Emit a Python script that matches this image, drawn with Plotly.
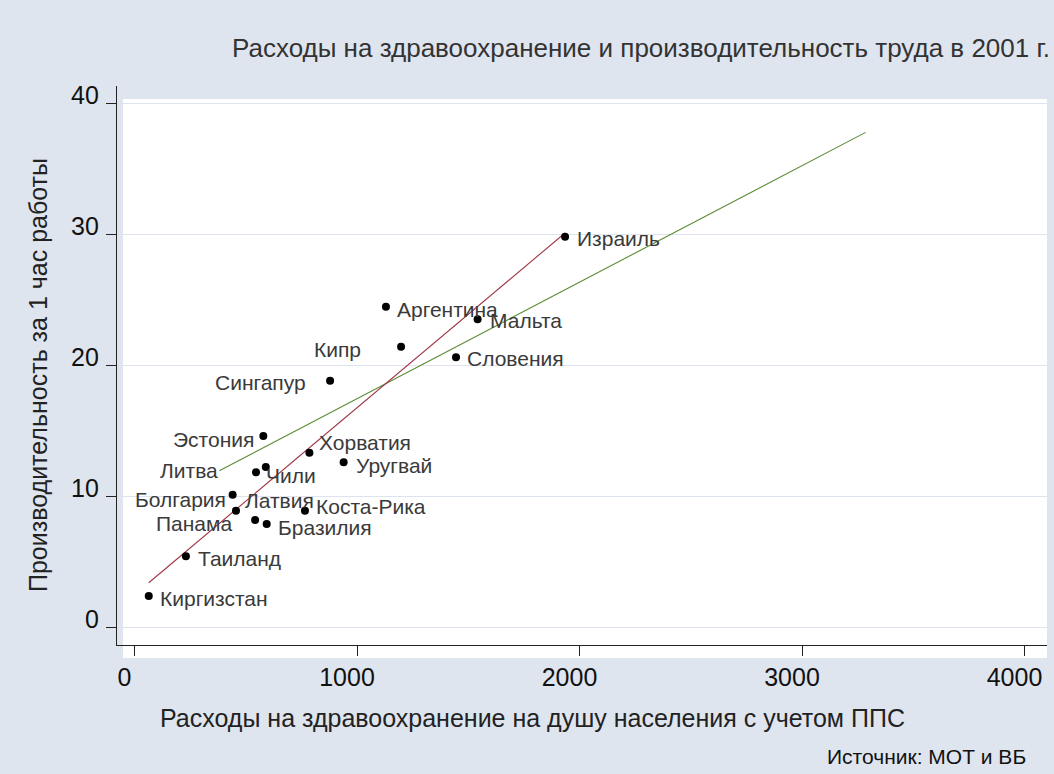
import plotly.graph_objects as go

# ---- data ----
countries = ["Израиль", "Аргентина", "Мальта", "Кипр", "Словения", "Сингапур",
             "Эстония", "Хорватия", "Уругвай", "Литва", "Чили", "Болгария",
             "Латвия", "Панама", "Коста-Рика", "Бразилия", "Таиланд", "Киргизстан"]
health_exp = [1935, 1130, 1542, 1198, 1445, 879,
              579, 786, 940, 590, 546, 441,
              456, 542, 766, 594, 231, 64]
productivity = [29.8, 24.45, 23.5, 21.4, 20.6, 18.8,
                14.58, 13.3, 12.57, 12.21, 11.81, 10.1,
                8.88, 8.17, 8.88, 7.86, 5.40, 2.37]

fit_sample_x = [64, 1935]          # fitted line over the sample shown
fit_sample_y = [3.38, 30.08]
fit_wide_x = [381, 3286]           # fitted line over the wider set
fit_wide_y = [11.93, 37.76]

x_ticks = [0, 1000, 2000, 3000, 4000]
y_ticks = [0, 10, 20, 30, 40]

title_text = "Расходы на здравоохранение и производительность труда в 2001 г."
x_title = "Расходы на здравоохранение на душу населения с учетом ППС"
y_title = "Производительность за 1 час работы"
source_text = "Источник: МОТ и ВБ"

# label placement (pixel offsets from the point; styling only)
label_style = {
    "Израиль": ("left", 10, -2), "Аргентина": ("left", 9, -2.5),
    "Мальта": ("left", 10, -1.7), "Кипр": ("right", -38, -3),
    "Словения": ("left", 9, -1.6), "Сингапур": ("right", -22, -1.6),
    "Эстония": ("right", -7, -3.5), "Хорватия": ("left", 8, 10),
    "Уругвай": ("left", 10, -2.7), "Литва": ("right", -46, -3),
    "Чили": ("left", 8, -2.7), "Болгария": ("right", -5, -4.3),
    "Латвия": ("left", 7, 9.7), "Панама": ("right", -21, -4),
    "Коста-Рика": ("left", 9, 3.7), "Бразилия": ("left", 9, -3),
    "Таиланд": ("left", 9.7, -2.7), "Киргизстан": ("left", 9.6, -2.3),
}

BG = "#dfe5ef"
FONT = "Liberation Sans, Arial, sans-serif"
W, H = 1054, 774
L, R, T, B = 117, 7, 86, 129
pw, ph = W - L - R, H - T - B

fig = go.Figure()
fig.add_trace(go.Scatter(x=fit_wide_x, y=fit_wide_y, mode="lines",
                         line=dict(color="#5c8a34", width=1.1), hoverinfo="skip"))
fig.add_trace(go.Scatter(x=fit_sample_x, y=fit_sample_y, mode="lines",
                         line=dict(color="#9e3444", width=1.1), hoverinfo="skip"))
fig.add_trace(go.Scatter(x=health_exp, y=productivity, mode="markers",
                         marker=dict(color="black", size=8),
                         text=countries, hoverinfo="text"))

for name, xv, yv in zip(countries, health_exp, productivity):
    anchor, dx, dy = label_style[name]
    fig.add_annotation(x=xv, y=yv, xref="x", yref="y", text=name, showarrow=False,
                       xanchor=anchor, yanchor="middle", xshift=dx, yshift=dy,
                       font=dict(family=FONT, size=21, color="#3a3a3a"))

# white plot region (slightly offset from axes, as in the original)
fig.add_shape(type="rect", xref="paper", yref="paper",
              x0=(123 - L) / pw, x1=1.0, y0=-(658 - (H - B)) / ph, y1=(H - B - 99) / ph,
              fillcolor="white", line=dict(width=0), layer="below")

fig.add_annotation(xref="paper", yref="paper", x=(532 - L) / pw, y=-(718 - (H - B)) / ph,
                   text=x_title, showarrow=False, xanchor="center", yanchor="middle",
                   font=dict(family=FONT, size=25, color="#222"))
fig.add_annotation(xref="paper", yref="paper", x=-(L - 38) / pw, y=(H - B - 375) / ph,
                   text=y_title, showarrow=False, xanchor="center", yanchor="middle",
                   textangle=-90, font=dict(family=FONT, size=25, color="#222"))
fig.add_annotation(xref="paper", yref="paper", x=(1028 - L) / pw, y=-(756 - (H - B)) / ph,
                   text=source_text, showarrow=False, xanchor="right", yanchor="middle",
                   font=dict(family=FONT, size=21, color="#111"))

fig.update_layout(
    width=W, height=H,
    margin=dict(l=L, r=R, t=T, b=B),
    paper_bgcolor=BG, plot_bgcolor="rgba(0,0,0,0)",
    showlegend=False,
    title=dict(text=title_text, xref="container", yref="container",
               x=232 / W, xanchor="left", y=1 - 48 / H, yanchor="middle",
               font=dict(family=FONT, size=26, color="#333")),
    xaxis=dict(range=[-78.7, 4101], tickvals=x_ticks, ticktext=[str(v) for v in x_ticks],
               showgrid=False, zeroline=False, showline=True, linecolor="#222", linewidth=1.3,
               ticks="outside", ticklen=10, tickcolor="#222", tickwidth=1.3,
               ticklabelstandoff=0, ticklabelshift=-10,
               tickfont=dict(family=FONT, size=25, color="#111")),
    yaxis=dict(range=[-1.374, 41.30], tickvals=y_ticks, ticktext=[str(v) for v in y_ticks],
               showgrid=True, gridcolor="#dde4ef", gridwidth=1, zeroline=False,
               showline=True, linecolor="#222", linewidth=1.3,
               ticks="outside", ticklen=10, tickcolor="#222", tickwidth=1.3,
               ticklabelstandoff=2, ticklabelshift=-8,
               tickfont=dict(family=FONT, size=25, color="#111")),
)

fig.write_html("out.html", config={"displayModeBar": False},
               post_script="document.body.style.margin='0px';"
                           "document.body.style.background='" + BG + "';")
